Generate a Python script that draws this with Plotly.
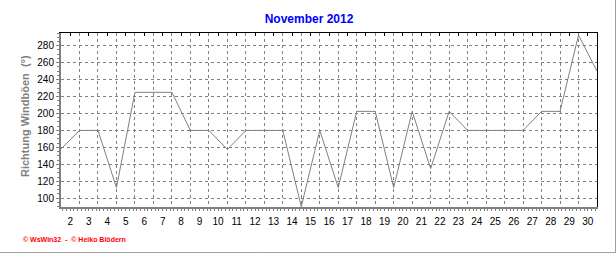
import plotly.graph_objects as go

# Data: wind gust direction (degrees), November 2012
days = [1.5, 2.5, 3.5, 4.5, 5.5, 6.5, 7.5, 8.5, 9.5, 10.5,
        11.5, 12.5, 13.5, 14.5, 15.5, 16.5, 17.5, 18.5, 19.5, 20.5,
        21.5, 22.5, 23.5, 24.5, 25.5, 26.5, 27.5, 28.5, 29.5, 30.5]
direction = [158, 180, 180, 112.5, 225, 225, 225, 180, 180, 157.5,
             180, 180, 180, 90, 180, 112.5, 202.5, 202.5, 112.5, 202.5,
             135, 202.5, 180, 180, 180, 180, 202.5, 202.5, 292.5, 250]
day_ticks = list(range(2, 31))
day_labels = [str(d) for d in day_ticks]
grid_days = [d + 0.5 for d in range(1, 31)]
y_ticks = list(range(100, 281, 20))

W, H = 616, 253
L, R, T, B = 61, 19, 33, 46
pw = W - L - R
ph = H - T - B

XR = [1.5, 30.5]
YR = [89.6, 295]

fig = go.Figure()
fig.add_trace(go.Scatter(x=days, y=direction, mode="lines",
                         line=dict(color="#808080", width=1),
                         xaxis="x", yaxis="y", showlegend=False, hoverinfo="x+y"))
# invisible helpers to keep overlay axes alive
fig.add_trace(go.Scatter(x=[None], y=[None], xaxis="x2", yaxis="y", showlegend=False))
fig.add_trace(go.Scatter(x=[None], y=[None], xaxis="x", yaxis="y2", showlegend=False))

fig.update_layout(
    width=W, height=H,
    margin=dict(l=L, r=R, t=T, b=B),
    paper_bgcolor="white", plot_bgcolor="white",
    font=dict(family="Arial, Liberation Sans, sans-serif", size=10, color="black"),
    title=dict(text="<b>November 2012</b>", x=309 / W, xanchor="center",
               y=1 - 19 / H, yanchor="middle",
               font=dict(family="Arial, Liberation Sans, sans-serif", size=12, color="#0000FF")),
    xaxis=dict(range=XR, tickmode="array", tickvals=day_ticks, ticktext=day_labels,
               showgrid=False, zeroline=False, ticks="", ticklabelstandoff=4,
               showline=True, linecolor="#808080", linewidth=2,
               tickfont=dict(size=10, color="black"),
               minor=dict(dtick=0.2, tick0=0, ticks="outside", ticklen=2,
                          tickcolor="#808080", showgrid=False)),
    xaxis2=dict(range=XR, overlaying="x", side="top", anchor="y",
                tickmode="array", tickvals=day_ticks, showticklabels=False,
                ticks="inside", ticklen=3, tickcolor="black", showgrid=False,
                zeroline=False, showline=True, linecolor="black", linewidth=1,
                minor=dict(tickmode="array", tickvals=grid_days, ticks="",
                           showgrid=True, gridcolor="#808080", gridwidth=1,
                           griddash="3px,3px")),
    yaxis=dict(range=YR, tickmode="array", tickvals=y_ticks,
               showgrid=True, gridcolor="#808080", gridwidth=1, griddash="3px,3px",
               zeroline=False, ticks="outside", ticklen=3, tickcolor="#808080",
               showline=True, linecolor="#808080", linewidth=2,
               tickfont=dict(size=10, color="black"),
               minor=dict(dtick=5, tick0=0, ticks="outside", ticklen=2,
                          tickcolor="#808080", showgrid=False)),
    yaxis2=dict(range=YR, overlaying="y", side="right", anchor="x",
                showticklabels=False, ticks="", showgrid=False, zeroline=False,
                showline=True, linecolor="black", linewidth=1),
    annotations=[
        dict(text="<b>Richtung Windböen  (°)</b>", xref="paper", yref="paper",
             x=(25 - L) / pw, y=(H - B - 116) / ph, xanchor="center", yanchor="middle",
             textangle=-90, showarrow=False,
             font=dict(family="Arial, Liberation Sans, sans-serif", size=11, color="#808080")),
        dict(text="<b>© WsWin32  -  © Heiko Blödern</b>", xref="paper", yref="paper",
             x=(21 - L) / pw, y=(H - B - 239) / ph, xanchor="left", yanchor="middle",
             showarrow=False,
             font=dict(family="Arial, Liberation Sans, sans-serif", size=7, color="#FF0000")),
    ],
    shapes=[
        dict(type="line", xref="paper", yref="paper",
             x0=(615.5 - L) / pw, x1=(615.5 - L) / pw,
             y0=(H - B - 253) / ph, y1=(H - B) / ph + 5,
             line=dict(color="#A0A0A0", width=1)),
        dict(type="line", xref="paper", yref="paper",
             x0=-L / pw, x1=(616 - L) / pw,
             y0=(H - B - 252.5) / ph, y1=(H - B - 252.5) / ph,
             line=dict(color="#A0A0A0", width=1)),
    ],
)

fig.write_html("out.html")
